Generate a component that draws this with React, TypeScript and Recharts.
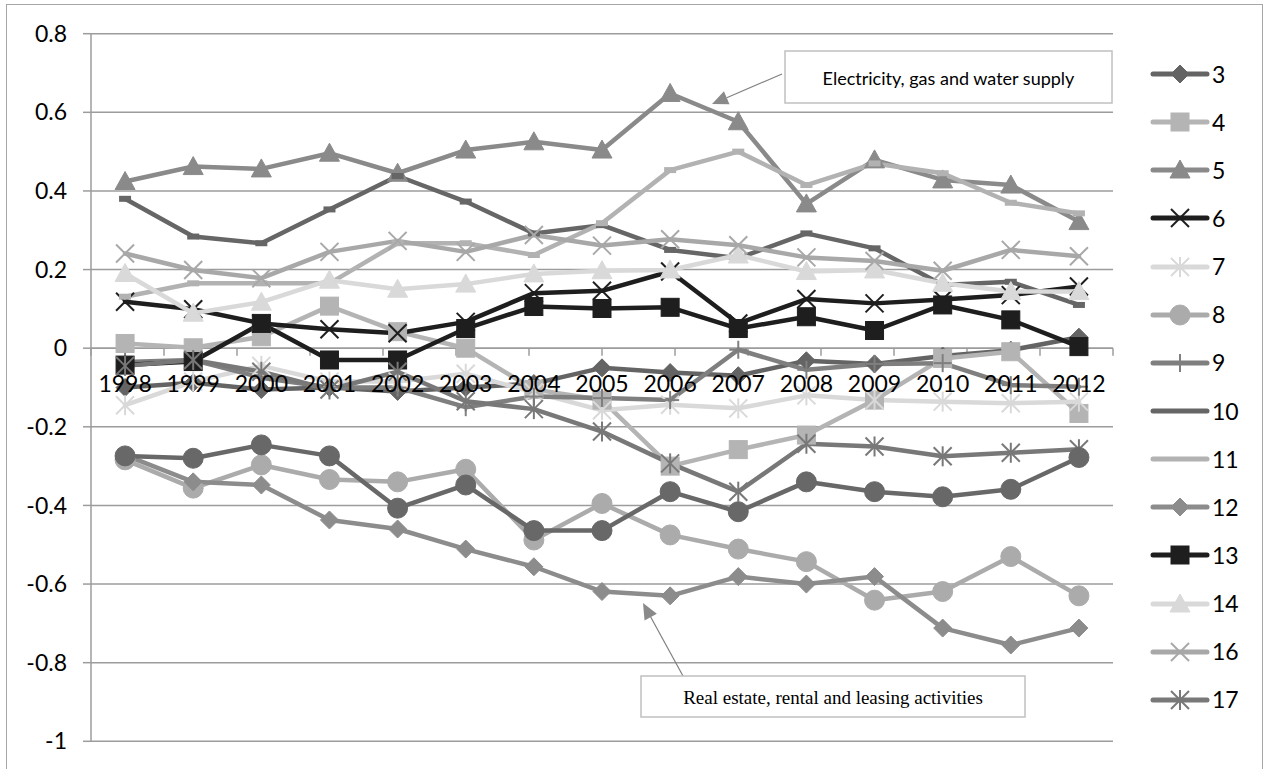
import React from 'react';
import { LineChart, Line, XAxis, YAxis, CartesianGrid, ReferenceLine, ReferenceDot, Legend } from 'recharts';

const years = ['1998', '1999', '2000', '2001', '2002', '2003', '2004', '2005', '2006', '2007', '2008', '2009', '2010', '2011', '2012'];
const yTicks = [0.8, 0.6, 0.4, 0.2, 0, -0.2, -0.4, -0.6, -0.8, -1];
const edgeTicks = [0, 1, 2, 3, 4, 5, 6, 7, 8, 9, 10, 11, 12, 13, 14, 15];

const s3 = [-0.1, -0.088, -0.105, -0.1, -0.11, -0.1, -0.09, -0.05, -0.062, -0.07, -0.032, -0.04, -0.02, -0.005, 0.028];
const s4 = [0.012, 0.001, 0.029, 0.107, 0.042, 0.0, -0.105, -0.132, -0.3, -0.258, -0.221, -0.132, -0.026, -0.009, -0.166];
const s5 = [0.424, 0.462, 0.456, 0.496, 0.445, 0.504, 0.525, 0.504, 0.648, 0.576, 0.367, 0.479, 0.428, 0.415, 0.322];
const s6 = [0.118, 0.099, 0.063, 0.048, 0.038, 0.067, 0.14, 0.146, 0.195, 0.063, 0.125, 0.114, 0.124, 0.135, 0.157];
const s7 = [-0.145, -0.085, -0.045, -0.085, -0.085, -0.065, -0.112, -0.158, -0.144, -0.153, -0.12, -0.132, -0.136, -0.14, -0.136];
const s8 = [-0.284, -0.356, -0.297, -0.334, -0.34, -0.308, -0.488, -0.395, -0.475, -0.511, -0.543, -0.641, -0.619, -0.53, -0.63];
const s9 = [-0.035, -0.03, -0.075, -0.1, -0.1, -0.15, -0.123, -0.127, -0.132, -0.004, -0.055, -0.04, -0.038, -0.094, -0.098];
const s10 = [0.38, 0.284, 0.267, 0.353, 0.438, 0.373, 0.292, 0.313, 0.25, 0.229, 0.292, 0.254, 0.161, 0.169, 0.11];
const s11 = [0.131, 0.165, 0.165, 0.165, 0.267, 0.267, 0.237, 0.318, 0.453, 0.5, 0.415, 0.47, 0.445, 0.37, 0.343];
const s12 = [-0.272, -0.34, -0.348, -0.437, -0.46, -0.511, -0.556, -0.619, -0.63, -0.581, -0.6, -0.581, -0.712, -0.755, -0.712];
const s13 = [-0.043, -0.034, 0.063, -0.03, -0.03, 0.05, 0.106, 0.101, 0.104, 0.05, 0.08, 0.045, 0.11, 0.072, 0.004];
const s14 = [0.19, 0.089, 0.117, 0.173, 0.15, 0.163, 0.189, 0.197, 0.199, 0.237, 0.195, 0.199, 0.165, 0.144, 0.144];
const s16 = [0.241, 0.199, 0.178, 0.245, 0.273, 0.245, 0.288, 0.261, 0.277, 0.262, 0.231, 0.222, 0.197, 0.25, 0.234];
const s17 = [-0.045, -0.03, -0.06, -0.105, -0.06, -0.135, -0.155, -0.212, -0.293, -0.365, -0.243, -0.25, -0.275, -0.266, -0.257];
const s18 = [-0.274, -0.28, -0.246, -0.274, -0.407, -0.348, -0.464, -0.464, -0.365, -0.416, -0.34, -0.365, -0.378, -0.359, -0.278];

type Def = { key: string; name: string; values: number[]; color: string; shape: string; hidden?: boolean };

const seriesDefs: Def[] = [
  { key: 's3', name: '3', values: s3, color: '#646464', shape: 'diamond' },
  { key: 's4', name: '4', values: s4, color: '#b4b4b4', shape: 'square' },
  { key: 's5', name: '5', values: s5, color: '#8a8a8a', shape: 'triangle' },
  { key: 's6', name: '6', values: s6, color: '#1e1e1e', shape: 'x' },
  { key: 's7', name: '7', values: s7, color: '#d9d9d9', shape: 'star' },
  { key: 's8', name: '8', values: s8, color: '#ababab', shape: 'circle' },
  { key: 's9', name: '9', values: s9, color: '#7f7f7f', shape: 'plus' },
  { key: 's10', name: '10', values: s10, color: '#666666', shape: 'dash' },
  { key: 's11', name: '11', values: s11, color: '#b2b2b2', shape: 'dash' },
  { key: 's12', name: '12', values: s12, color: '#8c8c8c', shape: 'diamond' },
  { key: 's13', name: '13', values: s13, color: '#1e1e1e', shape: 'square' },
  { key: 's14', name: '14', values: s14, color: '#d9d9d9', shape: 'triangle' },
  { key: 's16', name: '16', values: s16, color: '#a8a8a8', shape: 'x' },
  { key: 's17', name: '17', values: s17, color: '#787878', shape: 'star' },
  { key: 's18', name: '18', values: s18, color: '#686868', shape: 'circle', hidden: true },
];

const data = years.map((y, i) => {
  const row: any = { year: y };
  seriesDefs.forEach((s) => {
    row[s.key] = s.values[i];
  });
  return row;
});

function MarkerShape({ shape, color, cx, cy }: { shape: string; color: string; cx: number; cy: number }) {
  const s = 9;
  if (cx == null || cy == null || isNaN(cx) || isNaN(cy)) return <g />;
  switch (shape) {
    case 'diamond':
      return <path d={`M${cx},${cy - s} L${cx + s},${cy} L${cx},${cy + s} L${cx - s},${cy} Z`} fill={color} stroke={color} strokeWidth={1} />;
    case 'square':
      return <rect x={cx - s} y={cy - s} width={2 * s} height={2 * s} fill={color} stroke={color} strokeWidth={1} />;
    case 'triangle':
      return <path d={`M${cx},${cy - s - 1} L${cx + s + 1},${cy + s - 1} L${cx - s - 1},${cy + s - 1} Z`} fill={color} stroke={color} strokeWidth={1} />;
    case 'circle':
      return <circle cx={cx} cy={cy} r={s + 1} fill={color} stroke={color} strokeWidth={1} />;
    case 'x':
      return (
        <g stroke={color} strokeWidth={2}>
          <line x1={cx - s} y1={cy - s} x2={cx + s} y2={cy + s} />
          <line x1={cx - s} y1={cy + s} x2={cx + s} y2={cy - s} />
        </g>
      );
    case 'star':
      return (
        <g stroke={color} strokeWidth={2}>
          <line x1={cx - s} y1={cy - s} x2={cx + s} y2={cy + s} />
          <line x1={cx - s} y1={cy + s} x2={cx + s} y2={cy - s} />
          <line x1={cx} y1={cy - s - 1} x2={cx} y2={cy + s + 1} />
        </g>
      );
    case 'plus':
      return (
        <g stroke={color} strokeWidth={2}>
          <line x1={cx} y1={cy - s} x2={cx} y2={cy + s} />
          <line x1={cx - s} y1={cy} x2={cx + s} y2={cy} />
        </g>
      );
    case 'dash':
      return <rect x={cx - 6} y={cy - 3} width={12} height={6} fill={color} />;
    default:
      return <g />;
  }
}

const makeDot = (shape: string, color: string) => (p: any) => (
  <MarkerShape key={`d-${p.index}`} shape={shape} color={color} cx={p.cx} cy={p.cy} />
);

const LegendContent = (props: any) => {
  const payload = (props.payload || []) as any[];
  const present = new Set(payload.map((it: any) => it.dataKey));
  return (
    <div style={{ display: 'flex', flexDirection: 'column' }}>
      {seriesDefs
        .filter((def) => !def.hidden && present.has(def.key))
        .map((def) => (
          <div key={def.key} style={{ height: 48.15, display: 'flex', alignItems: 'center' }}>
            <svg width={60} height={24} style={{ display: 'block' }}>
              <line x1={3} y1={12} x2={57} y2={12} stroke={def.color} strokeWidth={5} strokeLinecap="round" />
              {def.shape !== 'dash' && <MarkerShape shape={def.shape} color={def.color} cx={30} cy={12} />}
            </svg>
            <span style={{ fontFamily: 'Lato', fontSize: 23, marginLeft: 2, lineHeight: 1, color: '#000' }}>{def.name}</span>
          </div>
        ))}
    </div>
  );
};

function arrowHead(tail: [number, number], tip: [number, number], len = 16, half = 7) {
  const dx = tip[0] - tail[0];
  const dy = tip[1] - tail[1];
  const L = Math.sqrt(dx * dx + dy * dy);
  const ux = dx / L;
  const uy = dy / L;
  const bx = tip[0] - ux * len;
  const by = tip[1] - uy * len;
  const nx = -uy;
  const ny = ux;
  return {
    pts: `${tip[0]},${tip[1]} ${bx + nx * half},${by + ny * half} ${bx - nx * half},${by - ny * half}`,
    base: [bx, by] as [number, number],
  };
}

export default function App() {
  const a1 = arrowHead([782, 74], [712, 104]);
  const a2 = arrowHead([683, 676], [643, 603]);
  return (
    <div style={{ position: 'absolute', left: 0, top: 0, width: 1266, height: 769, overflow: 'hidden', background: '#fff' }}>
      <div
        style={{
          position: 'absolute',
          left: 6,
          top: 4,
          width: 1257,
          height: 800,
          border: '1.5px solid #a6a6a6',
          boxSizing: 'border-box',
        }}
      />
      <div style={{ position: 'absolute', left: 0, top: 0 }}>
        <LineChart width={1266} height={769} data={data} margin={{ top: 33.7, right: 153, bottom: 27.7, left: 0 }}>
          <CartesianGrid horizontal vertical={false} stroke="#9c9c9c" strokeWidth={1.5} />
          <XAxis dataKey="year" scale="band" hide />
          <XAxis xAxisId="edge" type="number" domain={[0, 15]} allowDataOverflow hide />
          <YAxis
            type="number"
            domain={[-1, 0.8]}
            ticks={yTicks}
            interval={0}
            allowDataOverflow
            width={91}
            tickSize={8}
            tickMargin={16}
            axisLine={{ stroke: '#9c9c9c', strokeWidth: 1.5 }}
            tickLine={{ stroke: '#9c9c9c', strokeWidth: 1.5 }}
            tick={{ fill: '#000', fontSize: 23, fontFamily: 'Lato' }}
            tickFormatter={(v: number) => String(v)}
          />
          <ReferenceLine y={0} stroke="#9c9c9c" strokeWidth={1.5} />
          {edgeTicks.map((k) => (
            <ReferenceLine
              key={`t${k}`}
              xAxisId="edge"
              segment={[
                { x: k, y: 0 },
                { x: k, y: -0.0195 },
              ]}
              stroke="#9c9c9c"
              strokeWidth={1.5}
            />
          ))}
          {years.map((y) => (
            <ReferenceDot
              key={`l${y}`}
              x={y}
              y={0}
              r={0}
              fill="none"
              stroke="none"
              label={{ value: y, position: 'bottom', offset: 27, fill: '#000', fontSize: 23, fontFamily: 'Lato' }}
            />
          ))}
          {seriesDefs.map((s) => (
            <Line
              key={s.key}
              type="linear"
              dataKey={s.key}
              name={s.name}
              stroke={s.color}
              strokeWidth={4.5}
              strokeLinejoin="round"
              strokeLinecap="round"
              dot={makeDot(s.shape, s.color)}
              activeDot={false}
              legendType={s.hidden ? 'none' : 'line'}
              isAnimationActive={false}
            />
          ))}
          <Legend
            layout="vertical"
            align="center"
            verticalAlign="middle"
            content={<LegendContent />}
            wrapperStyle={{ left: 1150, top: 50, width: 110 }}
          />
        </LineChart>
      </div>
      <svg width={1266} height={769} style={{ position: 'absolute', left: 0, top: 0, pointerEvents: 'none' }}>
        <line x1={782} y1={74} x2={a1.base[0]} y2={a1.base[1]} stroke="#808080" strokeWidth={1.2} />
        <polygon points={a1.pts} fill="#8a8a8a" />
        <rect x={785} y={51} width={327} height={52} fill="#fff" stroke="#c0c0c0" strokeWidth={1.5} />
        <text x={948.5} y={78} textAnchor="middle" dominantBaseline="central" fontFamily="Lato" fontSize={18} fill="#000">
          Electricity, gas and water supply
        </text>
        <line x1={683} y1={676} x2={a2.base[0]} y2={a2.base[1]} stroke="#808080" strokeWidth={1.2} />
        <polygon points={a2.pts} fill="#8a8a8a" />
        <rect x={641} y={676} width={384} height={41} fill="#fff" stroke="#c0c0c0" strokeWidth={1.5} />
        <text x={833} y={697} textAnchor="middle" dominantBaseline="central" fontFamily="Liberation Serif" fontSize={19} fill="#000">
          Real estate, rental and leasing activities
        </text>
      </svg>
    </div>
  );
}
